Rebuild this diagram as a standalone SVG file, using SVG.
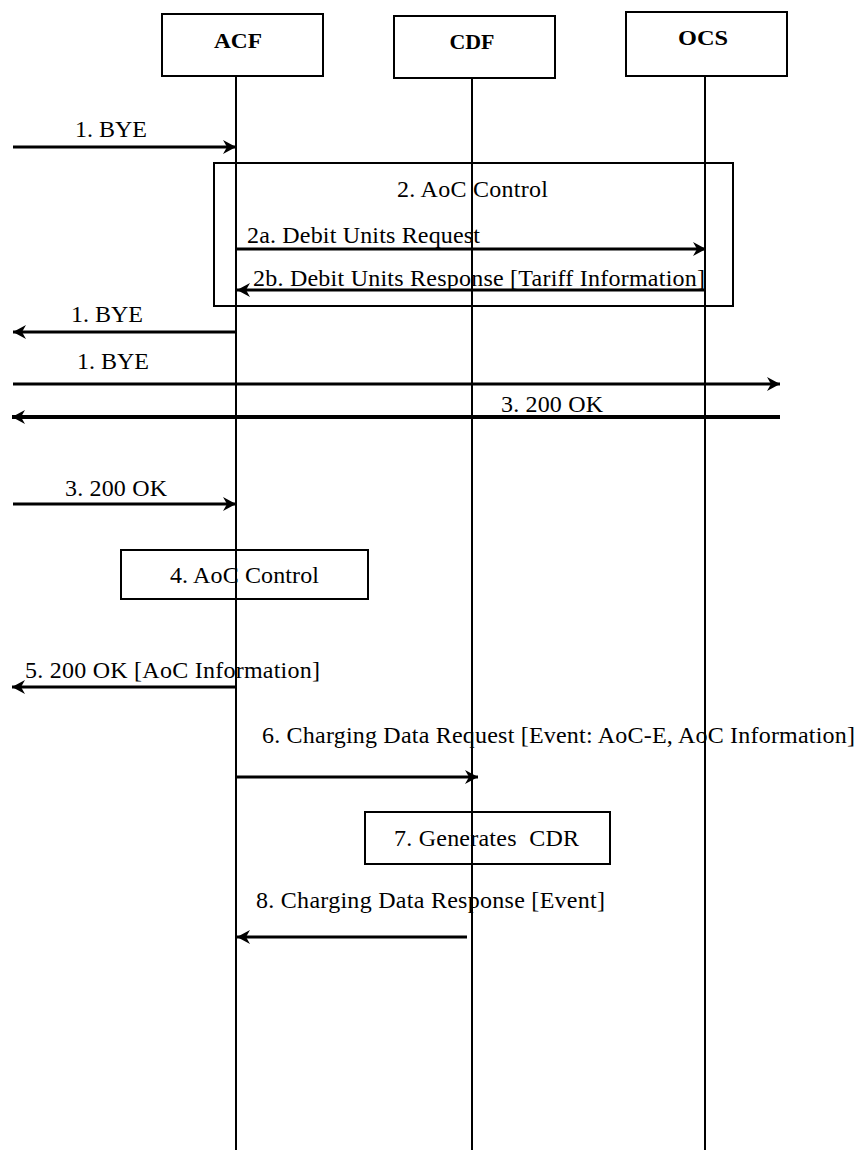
<svg xmlns="http://www.w3.org/2000/svg" width="865" height="1150" viewBox="0 0 865 1150">
<style>
.box{fill:#fff;stroke:#000;stroke-width:2}
.frame{fill:none;stroke:#000;stroke-width:2}
.life{stroke:#000;stroke-width:2;fill:none}
.msg{stroke:#000;stroke-width:3;fill:none;marker-end:url(#ah)}
.hdr{font-family:"Liberation Serif","Times New Roman",serif;font-weight:bold;font-size:20px;text-anchor:middle;fill:#000}
.lbl{font-family:"Liberation Serif","Times New Roman",serif;font-size:24px;fill:#000}
</style>
<defs>
<marker id="ah" markerUnits="userSpaceOnUse" markerWidth="16" markerHeight="16" refX="13" refY="7" orient="auto">
<path d="M0,0 L13,7 L0,14 L4,7 z" fill="#000"/>
</marker>
</defs>
<rect width="865" height="1150" fill="#fff"/>
<g id="lifelines">
<line class="life" x1="236" y1="76" x2="236" y2="1150"/>
<line class="life" x1="472" y1="78" x2="472" y2="1150"/>
<line class="life" x1="705" y1="76" x2="705" y2="1150"/>
</g>
<g id="ACF"><rect class="box" x="162" y="14" width="161" height="62"/><text class="hdr" x="238" y="48" textLength="48" lengthAdjust="spacingAndGlyphs">ACF</text></g>
<g id="CDF"><rect class="box" x="394" y="16" width="161" height="62"/><text class="hdr" x="472" y="49" textLength="45" lengthAdjust="spacingAndGlyphs">CDF</text></g>
<g id="OCS"><rect class="box" x="626" y="12" width="161" height="64"/><text class="hdr" x="703" y="45" textLength="50" lengthAdjust="spacingAndGlyphs">OCS</text></g>
<g id="aoc2"><rect class="frame" x="214" y="163" width="519" height="143"/><text class="lbl" x="397" y="197" textLength="151" lengthAdjust="spacing">2. AoC Control</text></g>
<g id="aoc4"><rect class="frame" x="121" y="550" width="247" height="49"/><text class="lbl" x="170" y="583" textLength="149" lengthAdjust="spacing">4. AoC Control</text></g>
<g id="cdr7"><rect class="frame" x="365" y="812" width="245" height="52"/><text class="lbl" x="394" y="846" textLength="185" lengthAdjust="spacing">7. Generates&#160; CDR</text></g>
<g id="connectors">
<line class="msg" x1="13" y1="147" x2="236" y2="147"/>
<line class="msg" x1="237" y1="249" x2="706" y2="249"/>
<line class="msg" x1="706" y1="290" x2="237" y2="290"/>
<line class="msg" x1="237" y1="332" x2="13" y2="332"/>
<line class="msg" x1="13" y1="384" x2="780" y2="384"/>
<line class="msg" style="stroke-width:4" x1="780" y1="417" x2="12" y2="417"/>
<line class="msg" x1="13" y1="504" x2="236" y2="504"/>
<line class="msg" x1="237" y1="687" x2="12" y2="687"/>
<line class="msg" x1="237" y1="777" x2="478" y2="777"/>
<line class="msg" x1="467" y1="937" x2="237" y2="937"/>
</g>
<g id="labels">
<text class="lbl" x="75" y="137" textLength="72" lengthAdjust="spacing">1. BYE</text>
<text class="lbl" x="247" y="243" textLength="233" lengthAdjust="spacing">2a. Debit Units Request</text>
<text class="lbl" x="253" y="286" textLength="452" lengthAdjust="spacing">2b. Debit Units Response [Tariff Information]</text>
<text class="lbl" x="71" y="322" textLength="72" lengthAdjust="spacing">1. BYE</text>
<text class="lbl" x="77" y="369" textLength="72" lengthAdjust="spacing">1. BYE</text>
<text class="lbl" x="501" y="412" textLength="102" lengthAdjust="spacing">3. 200 OK</text>
<text class="lbl" x="65" y="496" textLength="102" lengthAdjust="spacing">3. 200 OK</text>
<text class="lbl" x="25" y="678" textLength="295" lengthAdjust="spacing">5. 200 OK [AoC Information]</text>
<text class="lbl" x="262" y="743" textLength="593" lengthAdjust="spacing">6. Charging Data Request [Event: AoC-E, AoC Information]</text>
<text class="lbl" x="256" y="908" textLength="349" lengthAdjust="spacing">8. Charging Data Response [Event]</text>
</g>
</svg>
